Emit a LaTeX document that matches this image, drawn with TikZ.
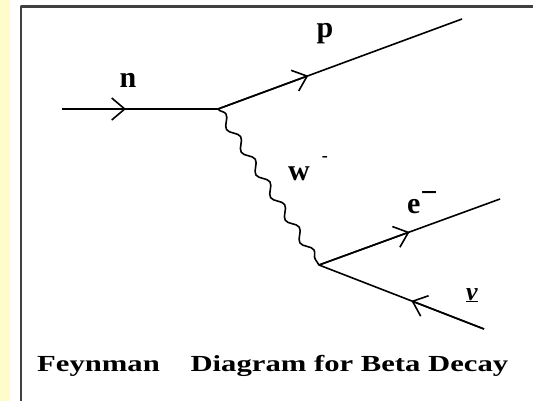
\documentclass[tikz,border=0pt]{standalone}
\usepackage{fontspec}
\setmainfont{Liberation Serif}
\usepackage{graphicx}
\usetikzlibrary{arrows.meta,calc,decorations.pathmorphing}
\tikzset{lbl/.style={font=\fontsize{30}{32}\selectfont\bfseries,inner sep=0pt},
  fermion/.style={line width=1.6pt},
  boson/.style={line width=1.6pt,decorate,decoration={snake,amplitude=4pt,segment length=27pt}}}

\begin{document}
\begin{tikzpicture}[x=1pt,y=-1pt,>={Straight Barb[length=13pt,width=22pt]},line join=round]
\useasboundingbox (0,0) rectangle (533,401);
% --- page edge and frame
\fill[yellow!20] (0,0) rectangle (10,401);
\draw[line width=2.5pt,black!75] (21,401) -- (21,6.5) -- (533,6.5);
% --- vertices and free ends
\coordinate (nin) at (62,109);
\coordinate (v1) at (218,109);
\coordinate (pout) at (462,19);
\coordinate (v2) at (319,265);
\coordinate (eout) at (500,199);
\coordinate (nuout) at (484,329);
% --- fermion lines, arrows half way
\draw[fermion] (nin) -- (v1) -- (pout);
\draw[fermion,->] (nin) -- ($(nin)!.41!(v1)$);
\draw[fermion,->] (v1) -- ($(v1)!.37!(pout)$);
\draw[fermion] (eout) -- (v2) -- (nuout);
\draw[fermion,->] (v2) -- ($(v2)!.5!(eout)$);
\draw[fermion,->] (nuout) -- ($(nuout)!.44!(v2)$);
% --- W boson
\draw[boson] (v1) -- (v2);
% --- labels
\node[lbl,anchor=base] (nlab) at (128,88) {n};
\node[lbl,anchor=base] (plab) at (325,38) {p};
\node[lbl,anchor=base west] (wlab) at (288,181) {w\hspace{12pt}\raisebox{19pt}{\fontsize{18}{18}\selectfont -}};
\node[lbl,anchor=base west] (elab) at (407,213) {e\raisebox{10pt}{−}};
\node[lbl,anchor=base] (nulab) at (472,300) {\fontsize{26}{28}\selectfont\underline{\textit{ν}}};
\node[anchor=base west,inner sep=0pt,font=\fontsize{23}{26}\selectfont\bfseries] (capt) at (37,371)
  {\resizebox{471pt}{\height}{Feynman\hspace{1em}Diagram for Beta Decay}};
\end{tikzpicture}
\end{document}
